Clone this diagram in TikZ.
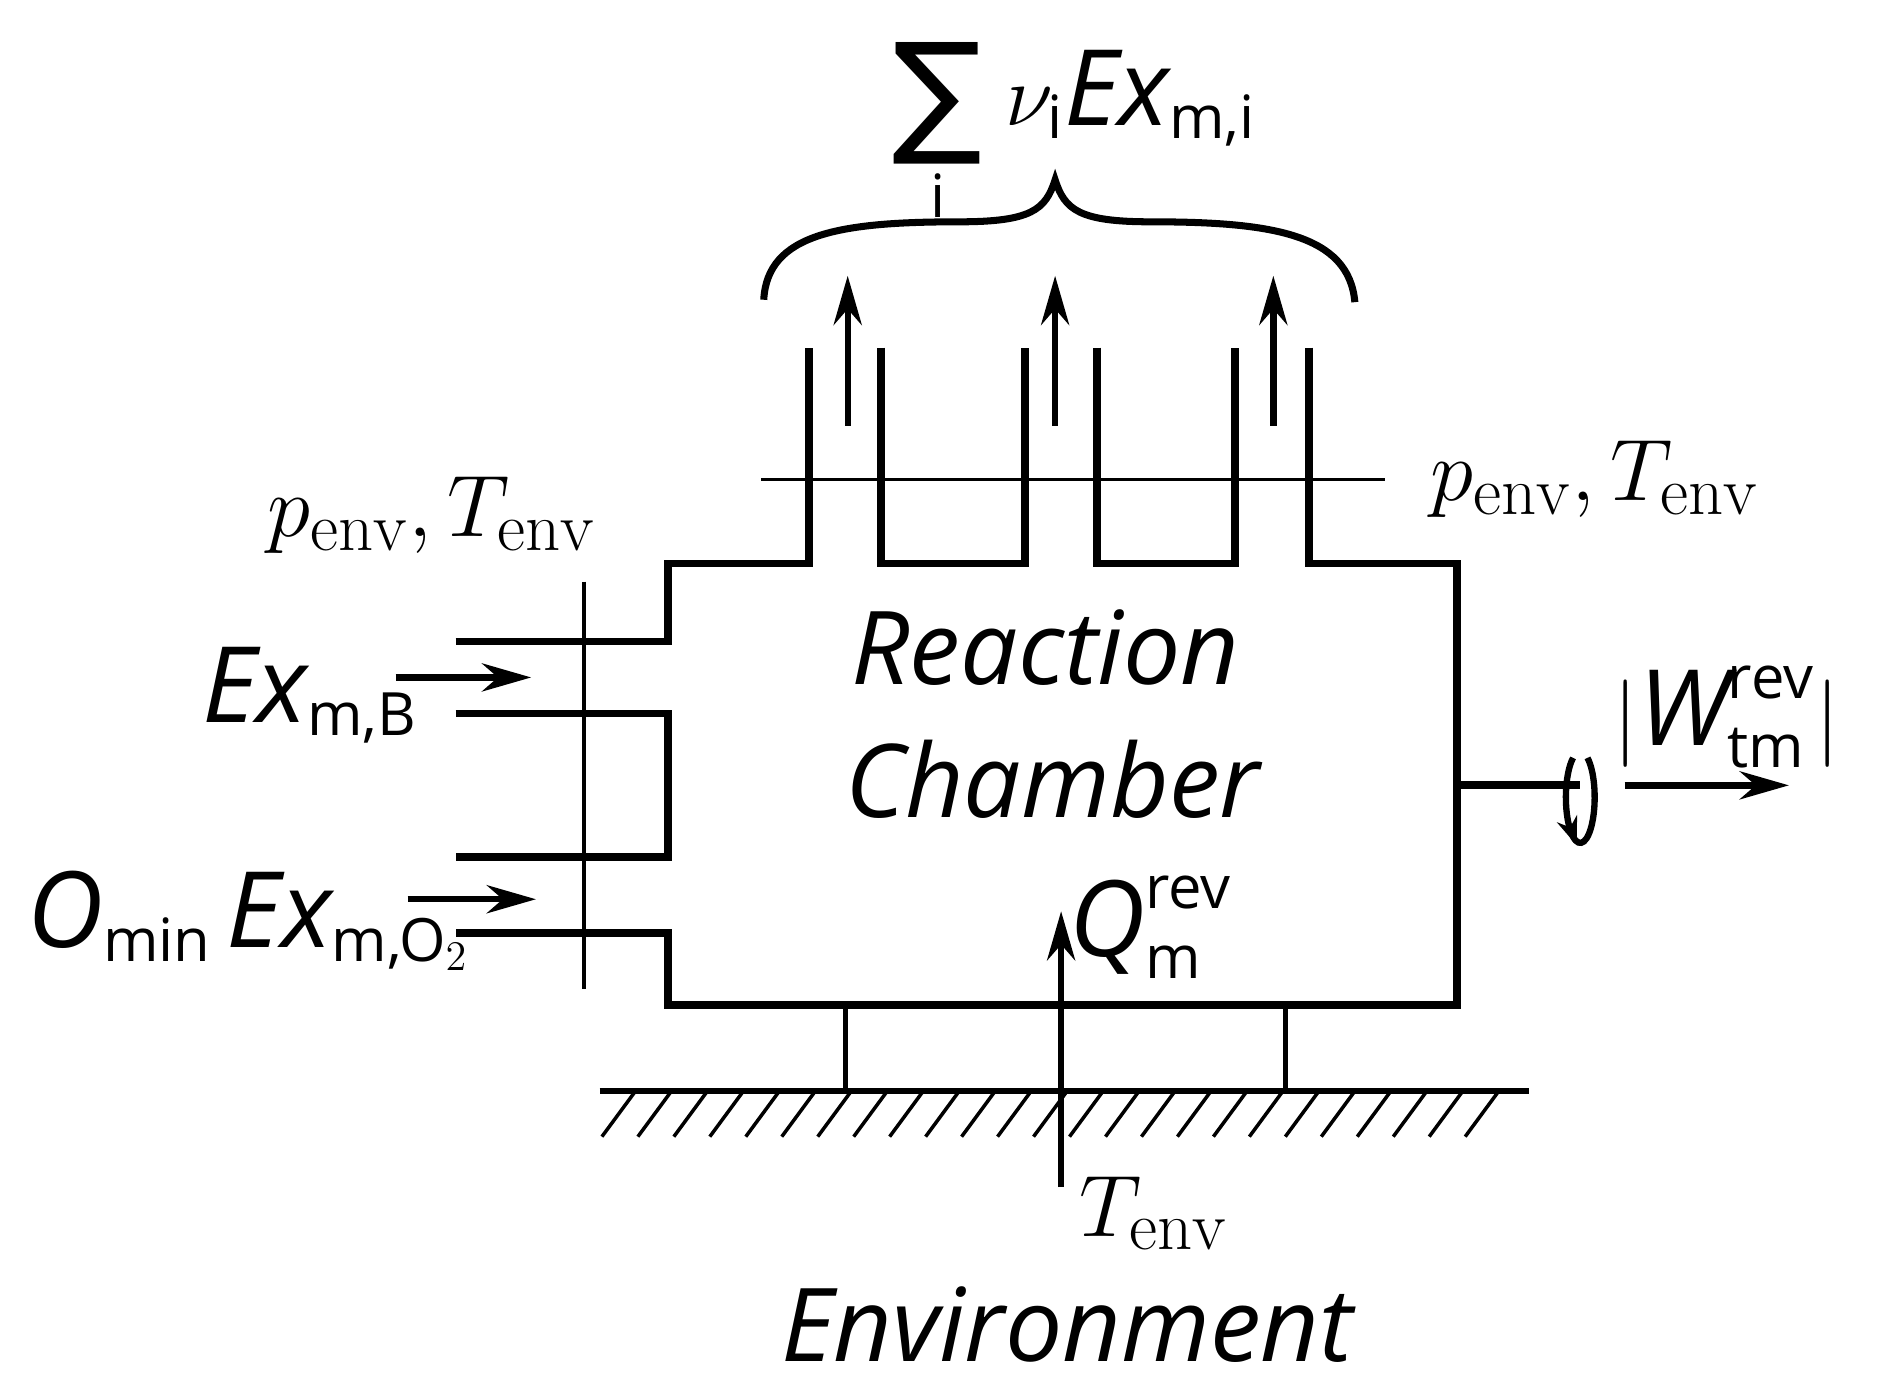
\documentclass[tikz,border=0pt]{standalone}
\usepackage{amsmath}
\usepackage{fontspec}
\setsansfont{Open Sans}
\newfontfamily\djvsans{DejaVu Sans}
\usetikzlibrary{arrows.meta}
\newcommand{\sx}[1]{\text{\fontsize{17}{19}\selectfont\sffamily #1}}
\newcommand{\si}[1]{\text{\sffamily\itshape #1}}
\begin{document}
\begin{tikzpicture}[x=0.012cm,y=-0.012cm,
  wall/.style={line width=2.2pt},
  thin/.style={line width=1pt},
  arr/.style={line width=1.8pt,-{Stealth[length=14pt,width=8pt]}},
  lab/.style={font=\fontsize{28}{32}\selectfont},
  sl/.style={font=\fontsize{30}{36}\selectfont},
  big/.style={font=\fontsize{29}{34}\selectfont\sffamily\itshape}]
\useasboundingbox (0,0) rectangle (1568,1164);
% chamber outline
\draw[wall] (380,535) -- (557,535) -- (557,470) -- (675,470) -- (675,290);
\draw[wall] (735,290) -- (735,470) -- (855,470) -- (855,290);
\draw[wall] (915,290) -- (915,470) -- (1030,470) -- (1030,290);
\draw[wall] (1092,290) -- (1092,470) -- (1215,470) -- (1215,838) -- (557,838) -- (557,778) -- (380,778);
\draw[wall] (380,595) -- (557,595) -- (557,715) -- (380,715);
% thin lines
\draw[thin] (487,485) -- (487,825);
\draw[thin] (635,400) -- (1155,400);
% inlet arrows
\coordinate (b0) at (330,565); \coordinate (b1) at (443,565);
\draw[arr] (b0) -- (b1);
\coordinate (o0) at (340,750); \coordinate (o1) at (447,750);
\draw[arr] (o0) -- (o1);
% outlet arrows
\foreach \x/\n in {707/a,880/b,1062/c}{
  \coordinate (u\n0) at (\x,355); \coordinate (u\n1) at (\x,230);
  \draw[arr] (u\n0) -- (u\n1);}
% brace
\draw[line width=2pt] (637,250) .. controls (640,195) and (700,185) .. (800,185)
  .. controls (860,185) and (872,175) .. (880,150)
  .. controls (888,175) and (900,185) .. (960,185)
  .. controls (1060,185) and (1125,195) .. (1130,252);
\node[font=\fontsize{38}{44}\selectfont\djvsans] (sig) at (782,86) {∑};
\node[font=\fontsize{17}{20}\selectfont\sffamily] (si) at (782,163) {i};
\node[sl,anchor=west] (sum) at (828,82) {$\nu_{\sx{i}}\si{Ex}_{\sx{m,i}}$};
% shaft
\coordinate (s0) at (1215,655); \coordinate (s1) at (1318,655);
\draw[wall] (s0) -- (s1);
\draw[line width=1.8pt] (1318,665) ++(-60:12 and 38) arc[start angle=-60,end angle=240,x radius=12,y radius=38];
\draw[line width=1.6pt,-{Stealth[length=8pt,width=6pt]}] (1311,694) -- (1315,705);
\coordinate (w0) at (1355,655); \coordinate (w1) at (1492,655);
\draw[arr] (w0) -- (w1);
\node[sl] (W) at (1440,598) {$|\si{W}^{\sx{rev}}_{\sx{tm}}|$};
% heat
\coordinate (q0) at (885,990); \coordinate (q1) at (885,760);
\draw[arr] (q0) -- (q1);
\node[sl] (Q) at (960,773) {$\si{Q}^{\sx{rev}}_{\sx{m}}$};
\node[lab] (Te) at (962,1012) {$T_{\mathrm{env}}$};
% legs and ground
\draw[line width=1.5pt] (705,838) -- (705,910);
\draw[line width=1.5pt] (1072,838) -- (1072,910);
\draw[line width=1.8pt] (500,910) -- (1275,910);
\foreach \x in {530,560,...,1275}{\draw[line width=1pt] (\x,910) -- (\x-28,948);}
% labels
\node[lab] (pl) at (360,430) {$p_{\mathrm{env}},T_{\mathrm{env}}$};
\node[lab] (pr) at (1330,400) {$p_{\mathrm{env}},T_{\mathrm{env}}$};
\node[sl,anchor=west,inner sep=0pt] (exb) at (168,580) {$\si{Ex}_{\sx{m,B}}$};
\node[sl,anchor=west,inner sep=0pt] (exo) at (22,768) {$\si{O}_{\sx{min}}\,\si{Ex}_{\sx{m,O$_2$}}$};
\node[big] (rc1) at (872,540) {Reaction};
\node[big] (rc2) at (878,650) {Chamber};
\node[big] (env) at (890,1105) {Environment};
\end{tikzpicture}
\end{document}
